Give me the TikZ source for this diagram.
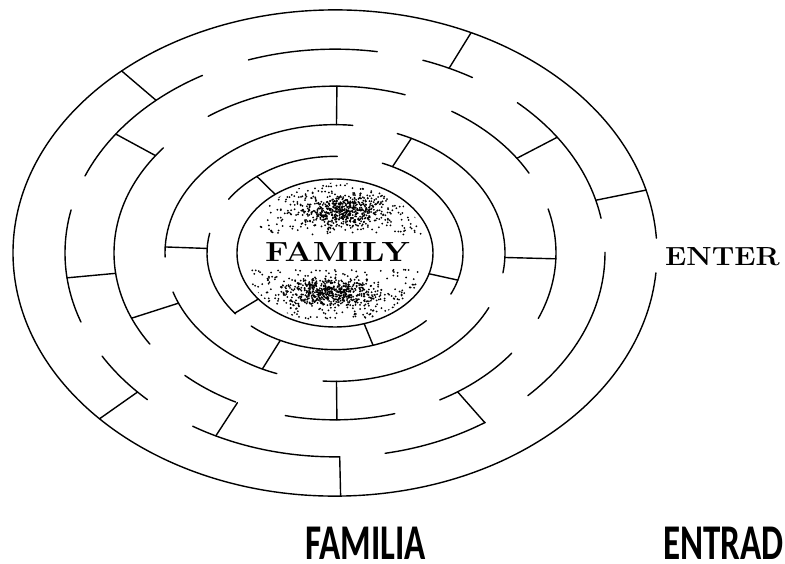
\documentclass[tikz,border=0pt]{standalone}
\usepackage{fontspec}
\newfontfamily\labelfont{Carlito}
\usetikzlibrary{positioning}

\begin{document}
\begin{tikzpicture}[x=1pt, y=0.755pt, wall/.style={line width=1.4pt, line cap=round}]
\useasboundingbox (-335,-411.9) rectangle (450,335.1);
\draw[wall] (3.5:322) arc[start angle=3.5, end angle=355.3, radius=322];
\foreach \r/\a/\b in {270/-44.4/0.2, 270/9.8/47.5, 270/59.4/71, 270/81/108.7, 270/119.4/157.8, 270/167.8/199.8, 270/210.4/226, 270/238.2/271, 270/280.7/303.8,
  221/-23.1/15.3, 221/28.6/58.1, 221/71.5/125, 221/140.9/213.1, 221/227.2/243.3, 221/257/285.7, 221/298.3/323.1,
  170/-8.9/68.5, 170/84/181.8, 170/197.7/250, 170/266/334.8,
  128/-25.2/68.3, 128/89/146.2, 128/168.2/219.1, 128/229.1/315.5}
  \draw[wall] (\a:\r) arc[start angle=\a, end angle=\b, radius=\r];
\draw[wall] (0,0) circle[radius=98];
\foreach \t/\p/\q in {131.5/322/270, 65/322/270, 15/322/270, 271/322/270, 223/322/270,
  187/270/221, 34.6/270/221, 144.3/270/221, 243.8/270/221, -56.3/270/221,
  89.5/221/170, -2/221/170, 270.5/221/170, 203/221/170,
  177.3/170/128, 63.3/170/128, 244.7/170/128,
  127.6/128/98, -16.3/128/98, -72.7/128/98, 218.5/128/98}
  \draw[wall] (\t:\p) -- (\t:\q);
\begin{scope}
\clip (0,0) circle[radius=93];
\pgfmathsetseed{17}
\foreach \i in {1,...,330} \fill ({2+84*rand},{60+36*rand}) circle (1pt);
\foreach \i in {1,...,500} \fill ({8+50*(rand+rand)/2},{57+24*(rand+rand)/2}) circle (1pt);
\foreach \i in {1,...,330} \fill ({0+84*rand},{-55+33*rand}) circle (1pt);
\foreach \i in {1,...,500} \fill ({-3+54*(rand+rand)/2},{-52+20*(rand+rand)/2}) circle (1pt);
\end{scope}
\node[anchor=base, inner sep=0pt] (family) at (2.5,-11.9) {\scalebox{1.2}[1]{\fontsize{27.7}{30}\selectfont\bfseries FAMILY}};
\node[anchor=base west, inner sep=0pt] (enter) at (330,-15.9) {\scalebox{1.1}[1]{\fontsize{26.2}{28}\selectfont\bfseries ENTER}};
\node[anchor=base west, inner sep=0pt] (familia) at (-30,-406.6) {\scalebox{0.7}[1]{\fontsize{50}{52}\selectfont\labelfont\bfseries FAMILIA}};
\node[anchor=base west, inner sep=0pt] (entrada) at (328,-406.6) {\scalebox{0.7}[1]{\fontsize{50}{52}\selectfont\labelfont\bfseries ENTRAD}};
\end{tikzpicture}
\end{document}
